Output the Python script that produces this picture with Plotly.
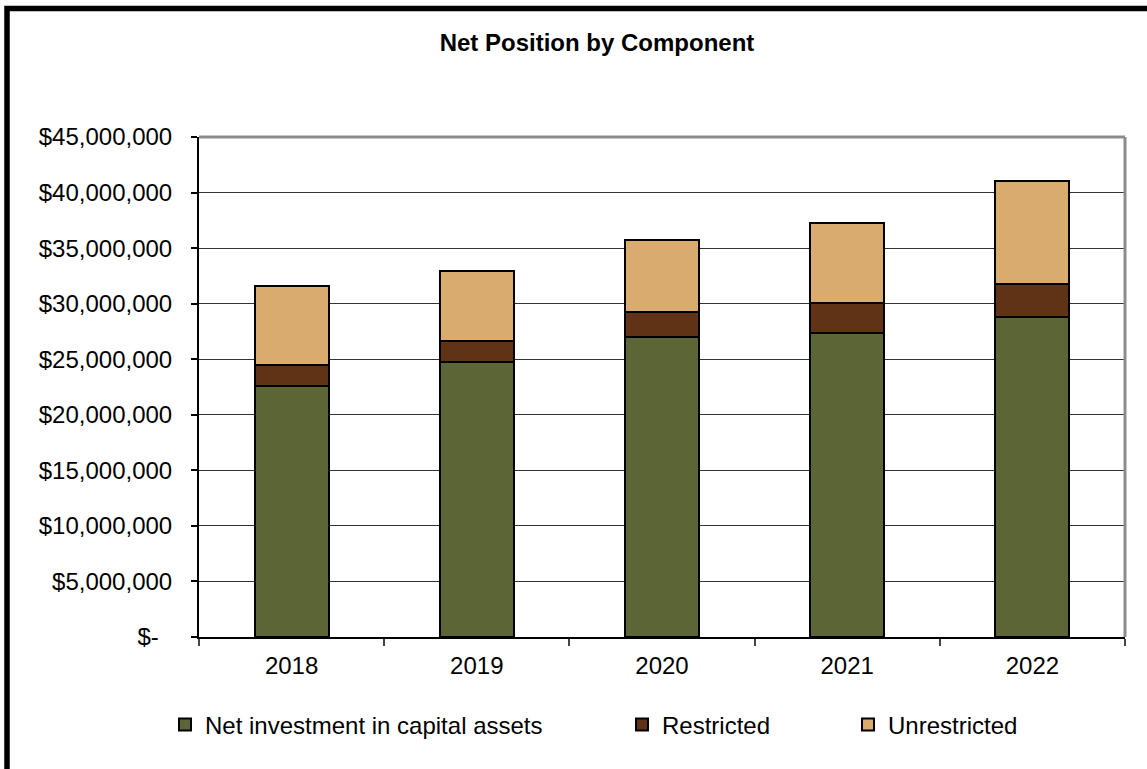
import plotly.graph_objects as go

years = ["2018", "2019", "2020", "2021", "2022"]
net_investment = [22_620_000, 24_720_000, 27_000_000, 27_390_000, 28_800_000]
restricted = [1_890_000, 1_950_000, 2_250_000, 2_700_000, 2_970_000]
unrestricted = [7_080_000, 6_230_000, 6_480_000, 7_200_000, 9_240_000]

series_names = ["Net investment in capital assets", "Restricted", "Unrestricted"]
series_colors = ["#5C6535", "#603216", "#D9AB6E"]

y_tickvals = [0, 5e6, 10e6, 15e6, 20e6, 25e6, 30e6, 35e6, 40e6, 45e6]
y_ticktext = ["$-\u00a0\u00a0", "$5,000,000", "$10,000,000", "$15,000,000", "$20,000,000",
              "$25,000,000", "$30,000,000", "$35,000,000", "$40,000,000", "$45,000,000"]

FONT = "Liberation Sans, Arial, sans-serif"

fig = go.Figure()
legends = ["legend2", "legend3", "legend4"]
for vals, name, color, lg in zip([net_investment, restricted, unrestricted], series_names, series_colors, legends):
    fig.add_trace(go.Bar(
        x=years, y=vals, name=name, legend=lg, showlegend=True,
        marker=dict(color=color, line=dict(color="black", width=2)),
    ))

W, H = 1147, 769
L, R, T, B = 199, 22, 137, 132
pw, ph = W - L - R, H - T - B

def px_x(p):
    return (p - L) / pw

def px_y(p):
    return (H - B - p) / ph

leg_common = dict(orientation="h", yanchor="middle", xanchor="left",
                  font=dict(family=FONT, size=24, color="black"),
                  bgcolor="rgba(0,0,0,0)", borderwidth=0)

fig.update_layout(
    width=W, height=H,
    margin=dict(l=L, r=R, t=T, b=B),
    paper_bgcolor="white", plot_bgcolor="white",
    barmode="stack", bargap=0.6,
    title=dict(text="<b>Net Position by Component</b>", x=597 / W, xanchor="center",
               y=1 - 43 / H, yanchor="middle",
               font=dict(family=FONT, size=24, color="black")),
    font=dict(family=FONT, size=24, color="black"),
    showlegend=True,
    legend2=dict(x=px_x(165), y=px_y(725), **leg_common),
    legend3=dict(x=px_x(622), y=px_y(725), **leg_common),
    legend4=dict(x=px_x(848), y=px_y(725), **leg_common),
    xaxis=dict(type="category", tickson="boundaries", ticks="outside", ticklen=7,
               tickcolor="#444", tickwidth=1.5, showline=True, linecolor="black", linewidth=2,
               showgrid=False, ticklabelstandoff=6,
               tickfont=dict(family=FONT, size=24, color="black")),
    yaxis=dict(range=[0, 45e6], tickvals=y_tickvals, ticktext=y_ticktext,
               ticks="outside", ticklen=6, tickcolor="black", tickwidth=1.5,
               showline=True, linecolor="black", linewidth=2,
               showgrid=True, gridcolor="#333", gridwidth=1, zeroline=False,
               ticklabelstandoff=14,
               tickfont=dict(family=FONT, size=24, color="black")),
    shapes=[
        dict(type="line", xref="paper", yref="paper", x0=0, x1=1, y0=1, y1=1,
             line=dict(color="#8c8c8c", width=3), layer="above"),
        dict(type="line", xref="paper", yref="paper", x0=1, x1=1, y0=0, y1=1,
             line=dict(color="#8c8c8c", width=3), layer="above"),
        dict(type="rect", xref="paper", yref="paper",
             x0=px_x(7), y1=px_y(8.5), x1=1.5, y0=-1.0,
             line=dict(color="black", width=5.5), fillcolor="rgba(0,0,0,0)", layer="above"),
    ],
)

fig.write_html("out.html")
